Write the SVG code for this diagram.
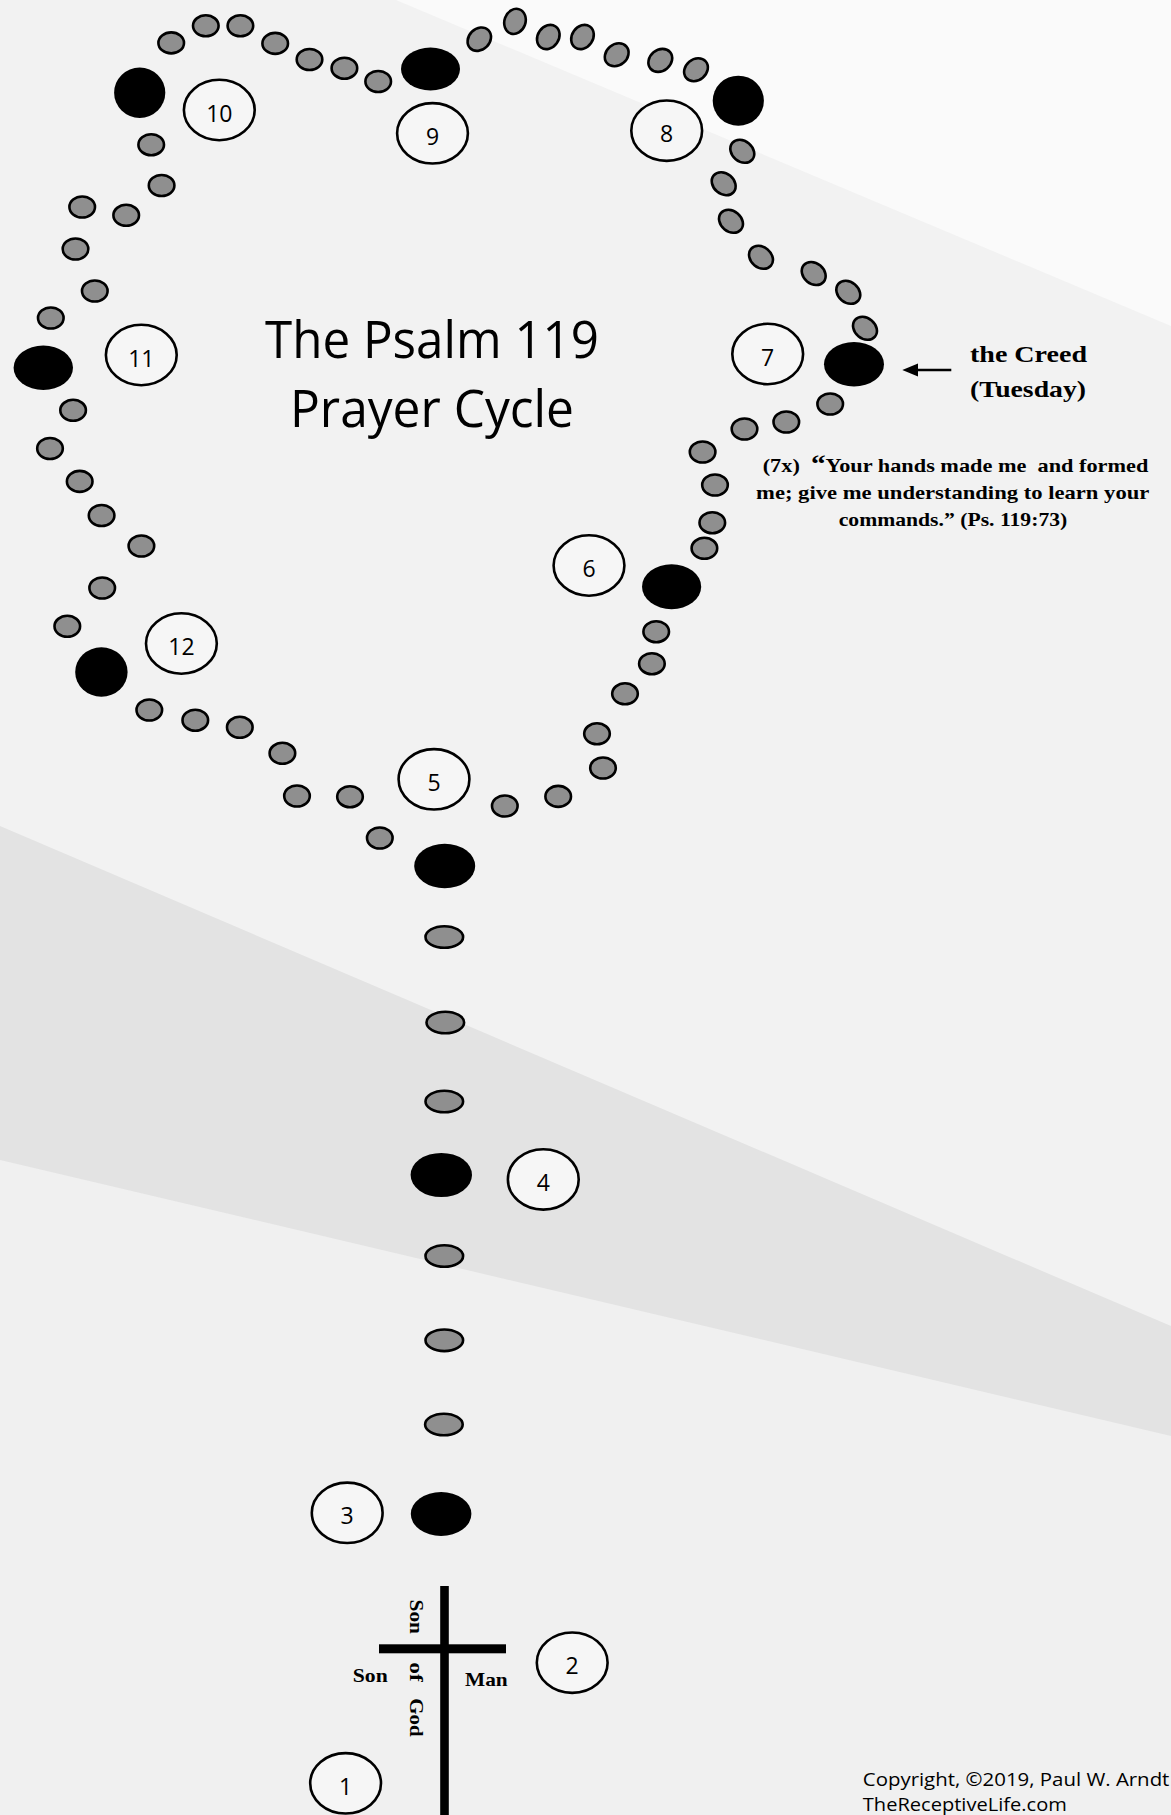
<svg xmlns="http://www.w3.org/2000/svg" width="1171" height="1815" viewBox="0 0 1171 1815">
<style>
.g{fill:#8f8f8f;stroke:#000;stroke-width:2.6}
.sg{fill:#8f8f8f;stroke:#000;stroke-width:2.6}
.b{fill:#000}
.n{fill:#f6f6f6;stroke:#000;stroke-width:2.6}
.nt{font-family:"Open Sans","Liberation Sans",sans-serif;font-size:23px;text-anchor:middle;fill:#000}
.t{font-family:"Open Sans","Liberation Sans",sans-serif;font-size:51px;text-anchor:middle;fill:#000}
.s{font-family:"Liberation Serif",serif;font-weight:bold;fill:#000}
.pre{white-space:pre}
.c{font-family:"Open Sans","Liberation Sans",sans-serif;font-size:19px;fill:#000}
</style>
<defs>
<ellipse id="gb" class="g" cx="0" cy="0" rx="12.8" ry="10.5"/>
<ellipse id="sb" class="sg" cx="0" cy="0" rx="18.8" ry="10.8"/>
</defs>

<g id="background">
<rect x="0" y="0" width="1171" height="1815" fill="#f2f2f2"/>
<polygon points="396,0 1171,0 1171,326" fill="#fafafa"/>
<polygon points="0,1160 1171,1436 1171,1815 0,1815" fill="#f0f0f0"/>
<polygon points="0,826 1171,1326 1171,1436 0,1160" fill="#e3e3e3"/>
</g>

<g id="title">
<text class="t" x="432" y="358.3" textLength="334" lengthAdjust="spacingAndGlyphs">The Psalm 119</text>
<text class="t" x="432" y="426.7" textLength="284" lengthAdjust="spacingAndGlyphs">Prayer Cycle</text>
</g>

<g id="beads-5-12">
<use href="#gb" x="379.8" y="838"/>
<use href="#gb" x="350" y="796.7"/>
<use href="#gb" x="297" y="796"/>
<use href="#gb" x="282.4" y="753.3"/>
<use href="#gb" x="239.8" y="727.3"/>
<use href="#gb" x="195.3" y="720.2"/>
<use href="#gb" x="149.3" y="710"/>
</g>
<g id="beads-12-11">
<use href="#gb" x="67.3" y="626.3"/>
<use href="#gb" x="102.2" y="588"/>
<use href="#gb" x="141.4" y="546"/>
<use href="#gb" x="101.6" y="515.5"/>
<use href="#gb" x="79.7" y="481.4"/>
<use href="#gb" x="50" y="448.5"/>
<use href="#gb" x="73.1" y="410.3"/>
</g>
<g id="beads-11-10">
<use href="#gb" x="50.8" y="318"/>
<use href="#gb" x="94.8" y="291"/>
<use href="#gb" x="75.5" y="249"/>
<use href="#gb" x="82.2" y="207"/>
<use href="#gb" x="126.2" y="215.3"/>
<use href="#gb" x="161.6" y="185.5"/>
<use href="#gb" x="151.2" y="144.7"/>
</g>
<g id="beads-10-9">
<use href="#gb" x="171.2" y="42.9"/>
<use href="#gb" x="205.8" y="25.8"/>
<use href="#gb" x="240.4" y="25.8"/>
<use href="#gb" x="275.2" y="43.4"/>
<use href="#gb" x="309.5" y="59.5"/>
<use href="#gb" x="344.4" y="68.2"/>
<use href="#gb" x="378.2" y="81.5"/>
</g>
<g id="beads-9-8">
<ellipse class="g" cx="479.3" cy="39.2" rx="12.8" ry="10.5" transform="rotate(-45 479.3 39.2)"/>
<ellipse class="g" cx="515" cy="21.4" rx="12.8" ry="10.5" transform="rotate(-70 515 21.4)"/>
<ellipse class="g" cx="548.3" cy="37" rx="12.8" ry="10.5" transform="rotate(-55 548.3 37)"/>
<ellipse class="g" cx="582.5" cy="37" rx="12.8" ry="10.5" transform="rotate(-55 582.5 37)"/>
<ellipse class="g" cx="616.7" cy="54.8" rx="12.8" ry="10.5" transform="rotate(-40 616.7 54.8)"/>
<ellipse class="g" cx="660.3" cy="60.4" rx="12.8" ry="10.5" transform="rotate(-40 660.3 60.4)"/>
<ellipse class="g" cx="696" cy="69.7" rx="12.8" ry="10.5" transform="rotate(-40 696 69.7)"/>
</g>
<g id="beads-8-7">
<ellipse class="g" cx="742.3" cy="151.3" rx="13" ry="10.3" transform="rotate(40 742.3 151.3)"/>
<ellipse class="g" cx="723.7" cy="183.7" rx="13" ry="10.3" transform="rotate(40 723.7 183.7)"/>
<ellipse class="g" cx="731" cy="221.3" rx="13" ry="10.3" transform="rotate(40 731 221.3)"/>
<ellipse class="g" cx="761" cy="257.3" rx="13" ry="10.3" transform="rotate(40 761 257.3)"/>
<ellipse class="g" cx="813.7" cy="273.5" rx="13" ry="10.3" transform="rotate(40 813.7 273.5)"/>
<ellipse class="g" cx="848.3" cy="292.3" rx="13" ry="10.3" transform="rotate(40 848.3 292.3)"/>
<ellipse class="g" cx="865" cy="328.3" rx="13" ry="10.3" transform="rotate(40 865 328.3)"/>
</g>
<g id="beads-7-6">
<use href="#gb" x="830.2" y="404"/>
<use href="#gb" x="786.3" y="422"/>
<use href="#gb" x="744.5" y="429"/>
<use href="#gb" x="702.6" y="452"/>
<use href="#gb" x="715" y="485"/>
<use href="#gb" x="712.3" y="522.7"/>
<use href="#gb" x="704.4" y="548.3"/>
</g>
<g id="beads-6-5">
<use href="#gb" x="656.2" y="631.7"/>
<use href="#gb" x="651.9" y="663.7"/>
<use href="#gb" x="625" y="693.8"/>
<use href="#gb" x="597" y="733.8"/>
<use href="#gb" x="603" y="768"/>
<use href="#gb" x="558.2" y="796.4"/>
<use href="#gb" x="504.8" y="806"/>
</g>

<g id="large-beads">
<ellipse id="lb5" class="b" cx="444.7" cy="866" rx="30.5" ry="22.3"/>
<ellipse id="lb6" class="b" cx="671.6" cy="586.7" rx="29.6" ry="22.5"/>
<ellipse id="lb7" class="b" cx="854" cy="364.3" rx="30" ry="22.2"/>
<ellipse id="lb8" class="b" cx="738.3" cy="100.7" rx="25.6" ry="25"/>
<ellipse id="lb9" class="b" cx="430.5" cy="69" rx="29.5" ry="21.5"/>
<ellipse id="lb10" class="b" cx="139.7" cy="92.7" rx="25.6" ry="25.2"/>
<ellipse id="lb11" class="b" cx="43.3" cy="367.7" rx="29.7" ry="22.2"/>
<ellipse id="lb12" class="b" cx="101.4" cy="672" rx="26.2" ry="24.7"/>
<ellipse id="lb4" class="b" cx="441.3" cy="1175" rx="30.7" ry="22.1"/>
<ellipse id="lb3" class="b" cx="441.1" cy="1514" rx="30.3" ry="22"/>
</g>

<g id="stem-beads">
<use href="#sb" x="444.3" y="937"/>
<use href="#sb" x="445.3" y="1022.5"/>
<use href="#sb" x="444.3" y="1101.5"/>
<use href="#sb" x="444.3" y="1256"/>
<use href="#sb" x="444.3" y="1340.3"/>
<use href="#sb" x="443.9" y="1424.5"/>
</g>

<g id="cross">
<rect x="440.2" y="1586" width="8.6" height="229" fill="#000"/>
<rect x="379" y="1644.3" width="127" height="9" fill="#000"/>
<text class="s" font-size="19" transform="translate(409.5 1599.5) rotate(90)" textLength="34.5" lengthAdjust="spacingAndGlyphs">Son</text>
<text class="s" font-size="19" transform="translate(409.5 1662.3) rotate(90)"><tspan x="0" textLength="19.4" lengthAdjust="spacingAndGlyphs">of</tspan><tspan x="36" textLength="38.4" lengthAdjust="spacingAndGlyphs">God</tspan></text>
<text class="s" font-size="19" x="352.8" y="1681.7" textLength="35" lengthAdjust="spacingAndGlyphs">Son</text>
<text class="s" font-size="19" x="465" y="1686" textLength="42.7" lengthAdjust="spacingAndGlyphs">Man</text>
</g>

<g id="n1"><ellipse class="n" cx="345.6" cy="1783.3" rx="35.4" ry="30.2"/><text class="nt" x="345.6" y="1794.8">1</text></g>
<g id="n2"><ellipse class="n" cx="572.2" cy="1662.7" rx="35.4" ry="30.2"/><text class="nt" x="572.2" y="1674.2">2</text></g>
<g id="n3"><ellipse class="n" cx="347.2" cy="1512.8" rx="35.4" ry="30.2"/><text class="nt" x="347.2" y="1524.3">3</text></g>
<g id="n4"><ellipse class="n" cx="543.3" cy="1179.4" rx="35.4" ry="30.2"/><text class="nt" x="543.3" y="1190.9">4</text></g>
<g id="n5"><ellipse class="n" cx="434" cy="779.3" rx="35.4" ry="30.2"/><text class="nt" x="434" y="790.8">5</text></g>
<g id="n6"><ellipse class="n" cx="589" cy="565.5" rx="35.4" ry="30.2"/><text class="nt" x="589" y="577">6</text></g>
<g id="n7"><ellipse class="n" cx="767.7" cy="354" rx="35.4" ry="30.2"/><text class="nt" x="767.7" y="365.5">7</text></g>
<g id="n8"><ellipse class="n" cx="666.7" cy="130.7" rx="35.4" ry="30.2"/><text class="nt" x="666.7" y="142.2">8</text></g>
<g id="n9"><ellipse class="n" cx="432.5" cy="133.3" rx="35.4" ry="30.2"/><text class="nt" x="432.5" y="144.8">9</text></g>
<g id="n10"><ellipse class="n" cx="219.3" cy="110" rx="35.4" ry="30.2"/><text class="nt" x="219.3" y="121.5">10</text></g>
<g id="n11"><ellipse class="n" cx="141.3" cy="355" rx="35.4" ry="30.2"/><text class="nt" x="141.3" y="366.5">11</text></g>
<g id="n12"><ellipse class="n" cx="181.4" cy="643.5" rx="35.4" ry="30.2"/><text class="nt" x="181.4" y="655">12</text></g>

<g id="creed-label">
<text class="s" font-size="24" x="970" y="362.3" textLength="117" lengthAdjust="spacingAndGlyphs">the Creed</text>
<text class="s" font-size="24" x="970" y="396.7" textLength="116" lengthAdjust="spacingAndGlyphs">(Tuesday)</text>
</g>

<g id="quote">
<text class="s pre" xml:space="preserve" font-size="19" x="955.5" y="472.3" text-anchor="middle" textLength="385.6" lengthAdjust="spacingAndGlyphs">(7x)  <tspan font-size="25">“</tspan>Your hands made me  and formed</text>
<text class="s pre" xml:space="preserve" font-size="19" x="952.7" y="498.5" text-anchor="middle" textLength="393.3" lengthAdjust="spacingAndGlyphs">me; give me understanding to learn your</text>
<text class="s pre" xml:space="preserve" font-size="19" x="953" y="526" text-anchor="middle" textLength="228.6" lengthAdjust="spacingAndGlyphs">commands.” (Ps. 119:73)</text>
</g>

<g id="connectors">
<line x1="951.3" y1="370" x2="914" y2="370" stroke="#000" stroke-width="2.6"/>
<polygon points="902.3,370 918,363.5 918,376.5" fill="#000"/>
</g>

<g id="copyright">
<text class="c" x="862.8" y="1785.5" textLength="306.6" lengthAdjust="spacingAndGlyphs">Copyright, ©2019, Paul W. Arndt</text>
<text class="c" x="862.8" y="1811" textLength="204" lengthAdjust="spacingAndGlyphs">TheReceptiveLife.com</text>
</g>
</svg>
